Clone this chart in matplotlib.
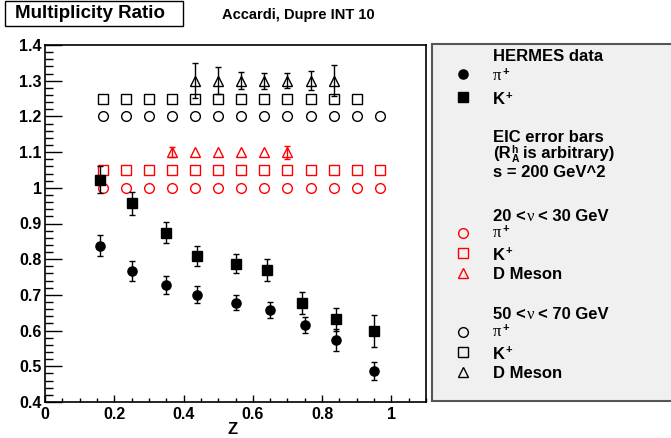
import matplotlib
matplotlib.use('Agg')
import matplotlib.pyplot as plt
from matplotlib.patches import Rectangle
from matplotlib.lines import Line2D
from matplotlib.ticker import MultipleLocator

# ---------------- data ----------------
hermes_z_pi = [0.16, 0.25, 0.35, 0.44, 0.55, 0.651, 0.751, 0.84, 0.951]
hermes_pi = [0.838, 0.767, 0.728, 0.701, 0.678, 0.658, 0.615, 0.573, 0.488]
hermes_pi_err = [0.029, 0.028, 0.025, 0.023, 0.021, 0.022, 0.022, 0.031, 0.025]

hermes_z_k = [0.16, 0.25, 0.35, 0.44, 0.55, 0.642, 0.741, 0.84, 0.951]
hermes_k = [1.023, 0.957, 0.874, 0.808, 0.787, 0.770, 0.677, 0.632, 0.598]
hermes_k_err = [0.038, 0.032, 0.029, 0.028, 0.027, 0.030, 0.030, 0.032, 0.045]

eic_z = [0.167, 0.233, 0.300, 0.367, 0.433, 0.500, 0.567, 0.633, 0.700,
         0.767, 0.833, 0.900, 0.967]

# 20 < nu < 30 GeV (red)
low_pi = [1.00, 1.00, 1.00, 1.00, 1.00, 1.00, 1.00, 1.00, 1.00, 1.00, 1.00, 1.00, 1.00]
low_k = [1.05, 1.05, 1.05, 1.05, 1.05, 1.05, 1.05, 1.05, 1.05, 1.05, 1.05, 1.05, 1.05]
low_d_z = [0.367, 0.433, 0.500, 0.567, 0.633, 0.700]
low_d = [1.10, 1.10, 1.10, 1.10, 1.10, 1.10]
low_d_err = [0.013, 0.0, 0.0, 0.0, 0.0, 0.018]

# 50 < nu < 70 GeV (black)
high_pi = [1.20, 1.20, 1.20, 1.20, 1.20, 1.20, 1.20, 1.20, 1.20, 1.20, 1.20, 1.20, 1.20]
high_k_z = [0.167, 0.233, 0.300, 0.367, 0.433, 0.500, 0.567, 0.633, 0.700,
            0.767, 0.833, 0.900]
high_k = [1.25, 1.25, 1.25, 1.25, 1.25, 1.25, 1.25, 1.25, 1.25, 1.25, 1.25, 1.25]
high_d_z = [0.433, 0.500, 0.567, 0.633, 0.700, 0.767, 0.833]
high_d = [1.30, 1.30, 1.30, 1.30, 1.30, 1.30, 1.30]
high_d_err = [0.049, 0.037, 0.023, 0.022, 0.021, 0.026, 0.043]

x_ticks = [0, 0.2, 0.4, 0.6, 0.8, 1.0]
x_ticklabels = ['0', '0.2', '0.4', '0.6', '0.8', '1']
y_ticks = [0.4, 0.5, 0.6, 0.7, 0.8, 0.9, 1.0, 1.1, 1.2, 1.3, 1.4]
y_ticklabels = ['0.4', '0.5', '0.6', '0.7', '0.8', '0.9', '1', '1.1', '1.2', '1.3', '1.4']

# ---------------- style ----------------
SANS = ['Liberation Sans', 'DejaVu Sans']
SERIF = ['Liberation Serif', 'DejaVu Serif']
plt.rcParams['font.family'] = SANS
plt.rcParams['font.weight'] = 'bold'

W, H = 671, 438
fig = plt.figure(figsize=(W / 100, H / 100), dpi=100)
fig.patch.set_facecolor('white')


def fx(px):
    return px / W


def fy(py):
    return 1 - py / H


ax = fig.add_axes([fx(45), fy(402), fx(426) - fx(45), fy(45) - fy(402)])
ax.set_xlim(0, 1.1)
ax.set_ylim(0.4, 1.4)

RED = '#ff0000'
ms_open = 7.0
ms_fill = 6.6

# EIC projections
ax.plot(eic_z, low_pi, 'o', mfc='none', mec=RED, mew=1.0, ms=ms_open, zorder=3)
ax.plot(eic_z, low_k, 's', mfc='none', mec=RED, mew=1.0, ms=ms_open, zorder=3)
ax.plot(low_d_z, low_d, '^', mfc='none', mec=RED, mew=1.0, ms=ms_open, zorder=3)
le = [(z, v, e) for z, v, e in zip(low_d_z, low_d, low_d_err) if e > 0]
ax.errorbar([p[0] for p in le], [p[1] for p in le], yerr=[p[2] for p in le], fmt='none',
            ecolor=RED, elinewidth=1.0, capsize=2.0, capthick=1.0, zorder=3)
ax.plot(eic_z, high_pi, 'o', mfc='none', mec='black', mew=1.0, ms=ms_open, zorder=3)
ax.plot(high_k_z, high_k, 's', mfc='none', mec='black', mew=1.0, ms=ms_open, zorder=3)
ax.errorbar(high_d_z, high_d, yerr=high_d_err, fmt='^', mfc='none', mec='black', mew=1.0,
            ms=ms_open, ecolor='black', elinewidth=1.0, capsize=2.0, capthick=1.0, zorder=3)

# HERMES data
ax.errorbar(hermes_z_pi, hermes_pi, yerr=hermes_pi_err, fmt='o', color='black',
            ms=ms_fill, elinewidth=1.0, capsize=2.5, capthick=1.0, zorder=5)
ax.errorbar(hermes_z_k, hermes_k, yerr=hermes_k_err, fmt='s', color='black',
            ms=ms_fill, elinewidth=1.0, capsize=2.5, capthick=1.0, zorder=5)

# axes styling (ROOT-like)
for side in ['top', 'right', 'left', 'bottom']:
    ax.spines[side].set_linewidth(1.2)
    ax.spines[side].set_color('black')
ax.set_xticks(x_ticks)
ax.set_xticklabels(x_ticklabels)
ax.set_yticks(y_ticks)
ax.set_yticklabels(y_ticklabels)
ax.xaxis.set_minor_locator(MultipleLocator(0.05))
ax.yaxis.set_minor_locator(MultipleLocator(0.02))
ax.tick_params(axis='y', which='major', direction='in', length=12.5, width=1.0,
               labelsize=11.5, pad=2.5)
ax.tick_params(axis='y', which='minor', direction='in', length=6, width=1.0)
ax.tick_params(axis='x', which='major', direction='in', length=5.3, width=1.0,
               labelsize=11.5, pad=3.5)
ax.tick_params(axis='x', which='minor', direction='in', length=3, width=1.0)
ax.tick_params(top=False, right=False, which='both')
for lab in ax.get_xticklabels() + ax.get_yticklabels():
    lab.set_fontweight('bold')

fig.text(fx(233), fy(430), 'Z', ha='center', va='center', fontsize=12, fontweight='bold')

# title box
fig.add_artist(Rectangle((fx(4.5), fy(25.7)), fx(182.7) - fx(4.5), fy(1.3) - fy(25.7),
                         transform=fig.transFigure, facecolor='white', edgecolor='black',
                         lw=1.0))
fig.text(fx(15), fy(14), 'Multiplicity Ratio', ha='left', va='center', fontsize=13.5,
         fontweight='bold')
fig.text(fx(222), fy(15.3), 'Accardi, Dupre INT 10', ha='left', va='center',
         fontsize=10.5, fontweight='bold')

# legend panel
lx0, ly0, ly1 = 432, 44, 401
lax = fig.add_axes([fx(lx0), fy(ly1), 1 - fx(lx0) + 0.02, fy(ly0) - fy(ly1)])
lax.set_xlim(lx0, lx0 + (1 - fx(lx0) + 0.02) * W)
lax.set_ylim(ly1, ly0)
lax.set_facecolor('#f0f0f0')
lax.set_xticks([])
lax.set_yticks([])
for side in ['top', 'left', 'bottom']:
    lax.spines[side].set_linewidth(1.5)
    lax.spines[side].set_color('#555555')
lax.spines['right'].set_visible(False)

renderer = fig.canvas.get_renderer()
FS = 12
SUB = 7.5


def place(x, base, s, size=FS, family=SANS, weight='bold', rise=0.0):
    t = fig.text(fx(x), fy(base - rise), s, fontsize=size, family=family,
                 fontweight=weight, ha='left', va='baseline')
    return t.get_window_extent(renderer).x1


def label_plain(x, base, s):
    place(x, base, s)


def label_pi(x, base):
    x1 = place(x, base, '\u03c0', family=SERIF, weight='normal')
    place(x1 + 0.8, base, '+', size=8, rise=5.0)


def label_k(x, base):
    x1 = place(x, base, 'K')
    place(x1 + 0.8, base, '+', size=8, rise=5.5)


def label_nu(x, base, lo, hi):
    x1 = place(x, base, lo + ' <')
    x2 = place(x1 + 1.0, base, '\u03bd', family=SERIF, weight='normal')
    place(x2 + 4.0, base, '< ' + hi + ' GeV')


def label_ra(x, base):
    x1 = place(x, base, '(R')
    xh = place(x1 + 0.8, base, 'h', size=SUB, rise=5.5)
    xa = place(x1 + 0.8, base, 'A', size=SUB, rise=-3.8)
    place(max(xh, xa) + 4.0, base, 'is arbitrary)')


mx, tx = 462.7, 493
legend_markers = [
    (74.3, dict(marker='o', mfc='black', mec='black', ms=ms_fill)),
    (96.7, dict(marker='s', mfc='black', mec='black', ms=ms_fill)),
    (233.3, dict(marker='o', mfc='none', mec=RED, ms=ms_open)),
    (253.3, dict(marker='s', mfc='none', mec=RED, ms=ms_open)),
    (273.3, dict(marker='^', mfc='none', mec=RED, ms=ms_open)),
    (332.3, dict(marker='o', mfc='none', mec='black', ms=ms_open)),
    (352.3, dict(marker='s', mfc='none', mec='black', ms=ms_open)),
    (372.3, dict(marker='^', mfc='none', mec='black', ms=ms_open)),
]
for y, mk in legend_markers:
    lax.add_line(Line2D([mx], [y], linestyle='none', mew=1.0, **mk))

label_plain(tx, 61.0, 'HERMES data')
label_pi(tx, 79.5)
label_k(tx, 104.0)
label_plain(tx, 141.7, 'EIC error bars')
label_ra(tx, 158.3)
label_plain(tx, 176.7, 's = 200 GeV^2')
label_nu(tx, 220.7, '20', '30')
label_pi(tx, 237.3)
label_k(tx, 260.0)
label_plain(tx, 279.3, 'D Meson')
label_nu(tx, 319.3, '50', '70')
label_pi(tx, 336.3)
label_k(tx, 359.0)
label_plain(tx, 378.3, 'D Meson')

fig.savefig('out.png', dpi=100)
